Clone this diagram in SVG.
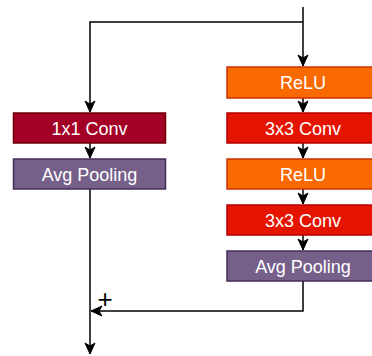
<svg xmlns="http://www.w3.org/2000/svg" width="372" height="356" viewBox="0 0 372 356">
<style>
.box{stroke-width:1.5}
.relu{fill:#fa6800;stroke:#c73500}
.conv3{fill:#e51400;stroke:#b20000}
.conv1{fill:#a20025;stroke:#6f0000}
.pool{fill:#76608a;stroke:#432d57}
.lbl{font-family:"Liberation Sans",Arial,sans-serif;font-size:18px;fill:#ffffff;text-anchor:middle}
.edge{fill:none;stroke:#000000;stroke-width:1.5}
</style>
<defs>
<marker id="arr" viewBox="-12 -6 13 12" refX="0" refY="0" markerWidth="13" markerHeight="12" markerUnits="userSpaceOnUse" orient="auto">
<path d="M-11,-5 L0,0 L-11,5 L-8,0 Z" fill="#000000" stroke="#000000" stroke-width="1"/>
</marker>
</defs>
<g id="connectors">
<path class="edge" d="M303,7 L303,66" marker-end="url(#arr)"/>
<path class="edge" d="M303,22 L90,22 L90,112" marker-end="url(#arr)"/>
<path class="edge" d="M303,98 L303,112" marker-end="url(#arr)"/>
<path class="edge" d="M303,143 L303,158" marker-end="url(#arr)"/>
<path class="edge" d="M303,189 L303,204" marker-end="url(#arr)"/>
<path class="edge" d="M303,235 L303,250" marker-end="url(#arr)"/>
<path class="edge" d="M90,143 L90,158" marker-end="url(#arr)"/>
<path class="edge" d="M90,189 L90,354" marker-end="url(#arr)"/>
<path class="edge" d="M303,281 L303,311 L91,311" marker-end="url(#arr)"/>
</g>
<g id="relu1"><rect class="box relu" x="227" y="67" width="152" height="31"/><text class="lbl" x="303" y="89">ReLU</text></g>
<g id="conv3a"><rect class="box conv3" x="227" y="113" width="152" height="30"/><text class="lbl" x="303" y="134.5">3x3 Conv</text></g>
<g id="relu2"><rect class="box relu" x="227" y="159" width="152" height="30"/><text class="lbl" x="303" y="180.5">ReLU</text></g>
<g id="conv3b"><rect class="box conv3" x="227" y="205" width="152" height="30"/><text class="lbl" x="303" y="226.5">3x3 Conv</text></g>
<g id="poolR"><rect class="box pool" x="227" y="251" width="152" height="30"/><text class="lbl" x="303" y="272.5">Avg Pooling</text></g>
<g id="conv1"><rect class="box conv1" x="13.5" y="113" width="152" height="30"/><text class="lbl" x="89.5" y="134.5">1x1 Conv</text></g>
<g id="poolL"><rect class="box pool" x="13.5" y="159" width="152" height="30"/><text class="lbl" x="89.5" y="180.5">Avg Pooling</text></g>
<text x="105" y="308" font-family="Liberation Sans,Arial,sans-serif" font-size="26" text-anchor="middle" fill="#000000">+</text>
</svg>
